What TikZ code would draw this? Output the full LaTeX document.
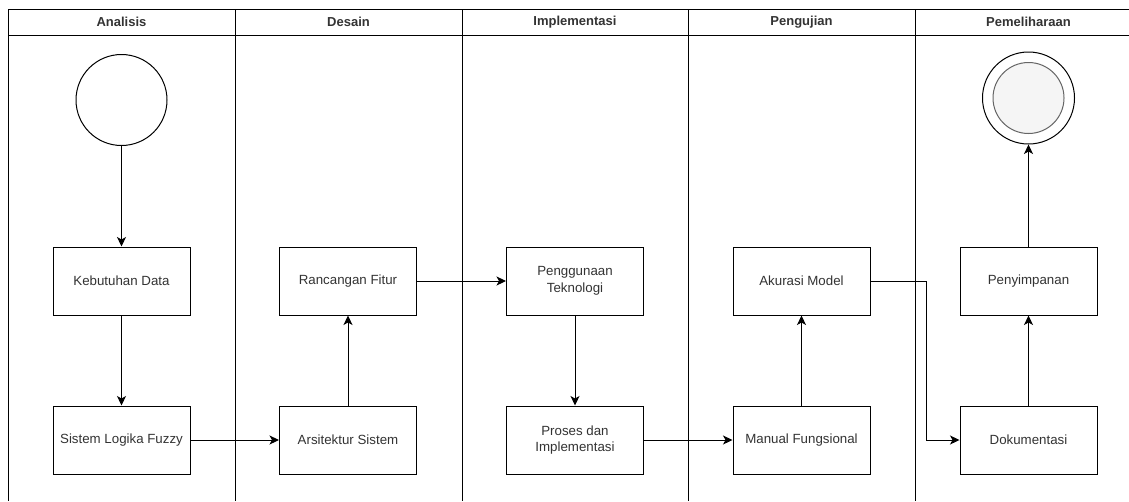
\documentclass[tikz,border=0pt]{standalone}
\usepackage{fontspec}
\setmainfont{Liberation Sans}
\usetikzlibrary{arrows.meta}
\definecolor{txt}{HTML}{333333}
\definecolor{endfill}{HTML}{F5F5F5}
\definecolor{endline}{HTML}{666666}
\tikzset{
  lane/.style={draw=black, line width=1pt},
  hdr/.style={font=\fontsize{13}{15}\selectfont\bfseries, text=txt, anchor=center},
  proc/.style={draw=black, line width=1pt, fill=white, minimum width=137pt, minimum height=68pt, inner sep=0pt, align=center, text=txt, font=\fontsize{13.3}{16.5}\selectfont},
  arr/.style={draw=black, line width=1pt, -{Stealth[length=9.5pt,width=9pt,inset=2.5pt]}},
}
\begin{document}
\begin{tikzpicture}[x=1pt,y=-1pt]
\useasboundingbox (0,0) rectangle (1129,501);
% pool and lanes
\draw[lane] (1129,9) -- (8,9) -- (8,501);
\draw[lane] (8,35) -- (1129,35);
\foreach \x in {235,462,688,915} {\draw[lane] (\x,9) -- (\x,501);}
\node[hdr] (h1) at (121.5,22) {Analisis};
\node[hdr] (h2) at (348.5,22) {Desain};
\node[hdr] (h3) at (575,22) {Implementasi};
\node[hdr] (h4) at (801.5,22) {Pengujian};
\node[hdr] (h5) at (1028.5,22) {Pemeliharaan};
% start and end
\node[circle, draw=black, line width=1pt, minimum size=91pt, inner sep=0pt] (start) at (121.5,100) {};
\node[circle, draw=black, line width=1pt, minimum size=92pt, inner sep=0pt, fill=white] (end) at (1028.5,98) {};
\node[circle, draw=endline, line width=1pt, minimum size=71pt, inner sep=0pt, fill=endfill] (endin) at (1028.5,98) {};
% process boxes
\node[proc] (keb) at (121.5,281) {Kebutuhan Data};
\node[proc] (slf) at (121.5,440) {Sistem Logika Fuzzy};
\node[proc] (ran) at (348,281) {Rancangan Fitur};
\node[proc] (ars) at (348,440) {Arsitektur Sistem};
\node[proc] (pen) at (575,281) {Penggunaan\\Teknologi};
\node[proc] (pro) at (575,440) {Proses dan\\Implementasi};
\node[proc] (aku) at (801.5,281) {Akurasi Model};
\node[proc] (man) at (801.5,440) {Manual Fungsional};
\node[proc] (pny) at (1028.5,281) {Penyimpanan};
\node[proc] (dok) at (1028.5,440) {Dokumentasi};
\coordinate (bend) at (926,281);
% connectors
\draw[arr] (start) -- (keb);
\draw[arr] (keb) -- (slf);
\draw[arr] (slf) -- (ars);
\draw[arr] (ars) -- (ran);
\draw[arr] (ran) -- (pen);
\draw[arr] (pen) -- (pro);
\draw[arr] (pro) -- (man);
\draw[arr] (man) -- (aku);
\draw[arr] (aku.east) -- (bend) |- (dok.west);
\draw[arr] (dok) -- (pny);
\draw[arr] (pny) -- (end);
\end{tikzpicture}
\end{document}
